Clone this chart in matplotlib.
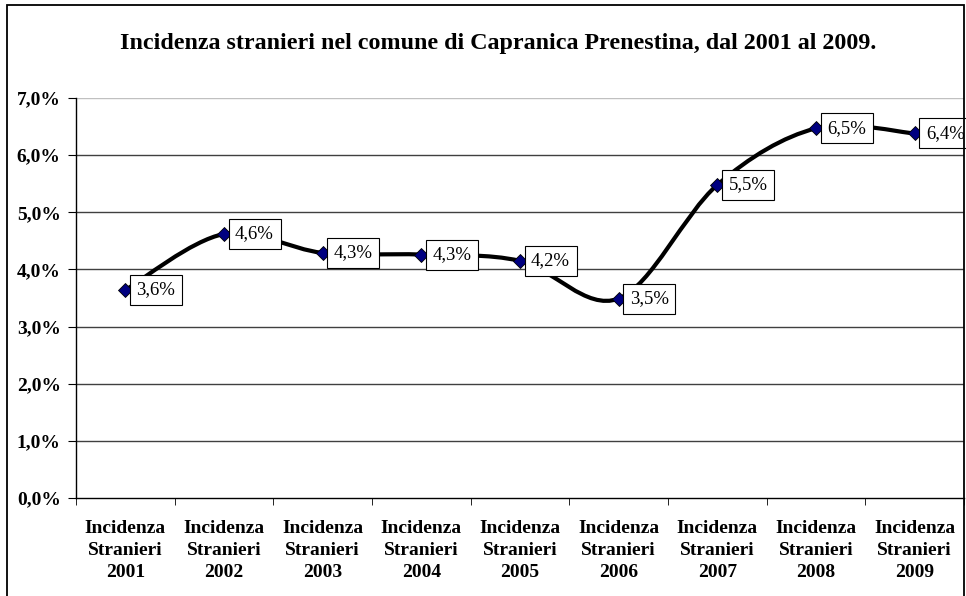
import numpy as np
import matplotlib.pyplot as plt
from matplotlib.path import Path
from matplotlib.patches import PathPatch, Rectangle

# data
anni = ['2001', '2002', '2003', '2004', '2005', '2006', '2007', '2008', '2009']
incidenza = [3.64, 4.62, 4.29, 4.26, 4.15, 3.49, 5.48, 6.47, 6.38]
etichette = ['3,6%', '4,6%', '4,3%', '4,3%', '4,2%', '3,5%', '5,5%', '6,5%', '6,4%']
y_ticks = [0, 1, 2, 3, 4, 5, 6, 7]

plt.rcParams['font.family'] = ['Liberation Serif', 'DejaVu Serif']

fig = plt.figure(figsize=(9.66, 5.96), dpi=100)
ax = fig.add_axes([76 / 966, 1 - 498 / 596, 888 / 966, 400 / 596])

# frame around the whole chart
fig.patches.append(Rectangle((7 / 966, -0.01), 957 / 966, 1 - 5 / 596 + 0.01,
                             transform=fig.transFigure, fill=False,
                             edgecolor='black', linewidth=1.3))

x = np.arange(len(anni))
y = np.array(incidenza)

# smoothed line (Excel-like bezier through points)
verts = [(x[0], y[0])]
codes = [Path.MOVETO]
for i in range(len(x) - 1):
    p0 = np.array([x[max(i - 1, 0)], y[max(i - 1, 0)]])
    p1 = np.array([x[i], y[i]])
    p2 = np.array([x[i + 1], y[i + 1]])
    p3 = np.array([x[min(i + 2, len(x) - 1)], y[min(i + 2, len(x) - 1)]])
    c1 = p1 + (p2 - p0) / 6
    c2 = p2 - (p3 - p1) / 6
    verts += [tuple(c1), tuple(c2), tuple(p2)]
    codes += [Path.CURVE4] * 3
ax.add_patch(PathPatch(Path(verts, codes), fill=False, edgecolor='black',
                       linewidth=3, zorder=3))

ax.plot(x, y, linestyle='none', marker='D', markersize=7,
        markerfacecolor='#000080', markeredgecolor='black', markeredgewidth=0.6,
        zorder=4)

for xi, yi, lab in zip(x, y, etichette):
    ax.annotate(lab, (xi, yi), xytext=(8, 0), textcoords='offset points',
                ha='left', va='center', fontsize=13.5,
                bbox=dict(boxstyle='square,pad=0.35', facecolor='white',
                          edgecolor='black', linewidth=0.8), zorder=5)

ax.set_xlim(-0.5, len(anni) - 0.5)
ax.set_ylim(0, 7)
ax.set_yticks(y_ticks)
ax.set_yticklabels(['%d,0%%' % t for t in y_ticks], fontsize=14, fontweight='bold')
ax.set_xticks(x)
ax.set_xticklabels(['Incidenza\nStranieri\n%s' % a for a in anni],
                   fontsize=14, fontweight='bold', linespacing=1.36)
ax.set_xticks(np.arange(-0.5, len(anni)), minor=True)
ax.tick_params(axis='x', which='major', length=0, pad=16)
ax.tick_params(axis='x', which='minor', length=5, direction='out')
ax.tick_params(axis='y', length=6, direction='out', pad=5)

for t in y_ticks[1:]:
    ax.axhline(t, color='#c0c0c0' if t == 7 else '#404040', linewidth=1, zorder=1)

for s in ['top', 'right']:
    ax.spines[s].set_visible(False)
ax.spines['left'].set_linewidth(1)
ax.spines['bottom'].set_linewidth(1)

fig.text(498 / 966, 1 - 43 / 596,
         'Incidenza stranieri nel comune di Capranica Prenestina, dal 2001 al 2009.',
         ha='center', va='center', fontsize=17.3, fontweight='bold')

fig.savefig('out.png', dpi=100)
